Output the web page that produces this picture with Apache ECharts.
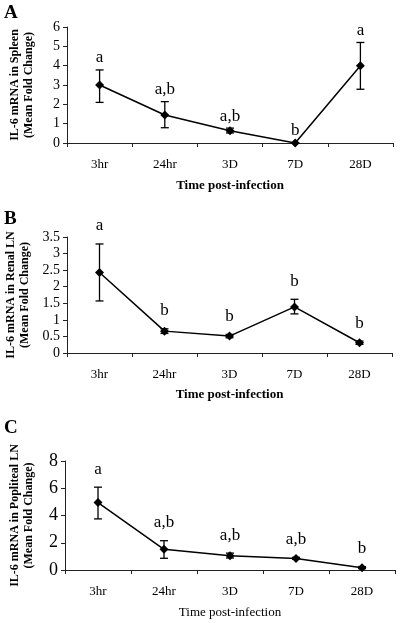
<!DOCTYPE html>
<html><head><meta charset="utf-8">
<script src="https://cdn.jsdelivr.net/npm/echarts@6/dist/echarts.min.js"></script>
<style>html,body{margin:0;padding:0;background:#fff}#c{width:400px;height:623px}</style>
</head><body><div id="c"></div>
<script>
const categories = ['3hr', '24hr', '3D', '7D', '28D'];

const spleenMean = [3.0, 1.45, 0.63, 0.0, 4.0];
const spleenLow = [2.1, 0.79, 0.52, 0.0, 2.78];
const spleenHigh = [3.78, 2.14, 0.77, 0.0, 5.2];
const spleenLetters = ['a', 'a,b', 'a,b', 'b', 'a'];
const spleenTicks = { min: 0, max: 6, interval: 1 };

const renalMean = [2.43, 0.66, 0.51, 1.39, 0.31];
const renalLow = [1.57, 0.59, 0.46, 1.18, 0.26];
const renalHigh = [3.29, 0.73, 0.56, 1.62, 0.36];
const renalLetters = ['a', 'b', 'b', 'b', 'b'];
const renalTicks = { min: 0, max: 3.5, interval: 0.5 };

const poplMean = [4.95, 1.52, 1.04, 0.85, 0.17];
const poplLow = [3.75, 0.86, 0.88, 0.78, 0.1];
const poplHigh = [6.08, 2.15, 1.24, 0.93, 0.25];
const poplLetters = ['a', 'a,b', 'a,b', 'a,b', 'b'];
const poplTicks = { min: 0, max: 8, interval: 2 };

const xTitle = 'Time post-infection';
const panelLetters = ['A', 'B', 'C'];
const yTitles = [
  'IL-6 mRNA in Spleen\n(Mean Fold Change)',
  'IL-6 mRNA in Renal LN\n(Mean Fold Change)',
  'IL-6 mRNA in Popliteal LN\n(Mean Fold Change)'
];

const FONT = 'Liberation Serif';
const panels = [
  { mean: spleenMean, low: spleenLow, high: spleenHigh, letters: spleenLetters, ticks: spleenTicks,
    grid: { left: 67, right: 7, top: 27, height: 116 }, yFont: 14, letterOff: 12, xBold: 'bold', labelY: 14, nameGap: 31, xGap: 36 },
  { mean: renalMean, low: renalLow, high: renalHigh, letters: renalLetters, ticks: renalTicks,
    grid: { left: 67, right: 8, top: 237, height: 116 }, yFont: 14, letterOff: 18, xBold: 'bold', labelY: 220, nameGap: 31, xGap: 35 },
  { mean: poplMean, low: poplLow, high: poplHigh, letters: poplLetters, ticks: poplTicks,
    grid: { left: 65, right: 5, top: 461, height: 109 }, yFont: 18, letterOff: 18, xBold: 'normal', labelY: 429, nameGap: 29, xGap: 36 }
];

const grids = [], xAxes = [], yAxes = [], series = [], graphics = [];
panels.forEach((p, i) => {
  grids.push(Object.assign({ containLabel: false, outerBoundsMode: 'none' }, p.grid));
  xAxes.push({
    type: 'category', gridIndex: i, data: categories, boundaryGap: true,
    axisLine: { lineStyle: { color: '#222', width: 1 } },
    axisTick: { show: true, length: 4, alignWithLabel: false, lineStyle: { color: '#222' } },
    axisLabel: { color: '#000', fontFamily: FONT, fontSize: 13, margin: 15 },
    name: xTitle, nameLocation: 'middle', nameGap: p.xGap,
    nameTextStyle: { color: '#000', fontFamily: FONT, fontSize: 13, fontWeight: p.xBold }
  });
  yAxes.push({
    type: 'value', gridIndex: i, min: p.ticks.min, max: p.ticks.max, interval: p.ticks.interval,
    splitLine: { show: false },
    axisLine: { show: true, lineStyle: { color: '#222', width: 1 } },
    axisTick: { show: true, length: 4, lineStyle: { color: '#222' } },
    axisLabel: { color: '#000', fontFamily: FONT, fontSize: p.yFont, margin: 7 },
    name: yTitles[i], nameLocation: 'middle', nameRotate: 90, nameGap: p.nameGap,
    nameTextStyle: { color: '#000', fontFamily: FONT, fontSize: 12, fontWeight: 'bold', lineHeight: 14 }
  });
  series.push({
    type: 'line', xAxisIndex: i, yAxisIndex: i, data: p.mean,
    symbol: 'diamond', symbolSize: 9, z: 3,
    lineStyle: { color: '#000', width: 1.5 }, itemStyle: { color: '#000' }
  });
  const letters = p.letters, off = p.letterOff;
  series.push({
    type: 'custom', xAxisIndex: i, yAxisIndex: i, z: 4,
    data: p.mean.map((m, k) => [k, p.low[k], p.high[k]]),
    encode: { x: 0, y: [1, 2] },
    renderItem: function (params, api) {
      const x = api.value(0);
      const lo = api.coord([x, api.value(1)]);
      const hi = api.coord([x, api.value(2)]);
      const cap = 4;
      const st = { stroke: '#000', lineWidth: 1.3 };
      return {
        type: 'group',
        children: [
          { type: 'line', shape: { x1: lo[0], y1: lo[1], x2: hi[0], y2: hi[1] }, style: st },
          { type: 'line', shape: { x1: lo[0] - cap, y1: lo[1], x2: lo[0] + cap, y2: lo[1] }, style: st },
          { type: 'line', shape: { x1: hi[0] - cap, y1: hi[1], x2: hi[0] + cap, y2: hi[1] }, style: st },
          { type: 'text', x: hi[0], y: hi[1] - off,
            style: { text: letters[params.dataIndex], fill: '#000', font: '17px "' + FONT + '"',
                     textAlign: 'center', textVerticalAlign: 'middle' } }
        ]
      };
    }
  });
  graphics.push({
    type: 'text', left: 4, top: p.labelY - 10,
    style: { text: panelLetters[i], fill: '#000', font: 'bold 19px "' + FONT + '"' }
  });
});

const chart = echarts.init(document.getElementById('c'), null, { renderer: 'canvas' });
chart.setOption({
  animation: false,
  backgroundColor: '#fff',
  grid: grids, xAxis: xAxes, yAxis: yAxes, series: series, graphic: graphics
});
</script></body></html>
